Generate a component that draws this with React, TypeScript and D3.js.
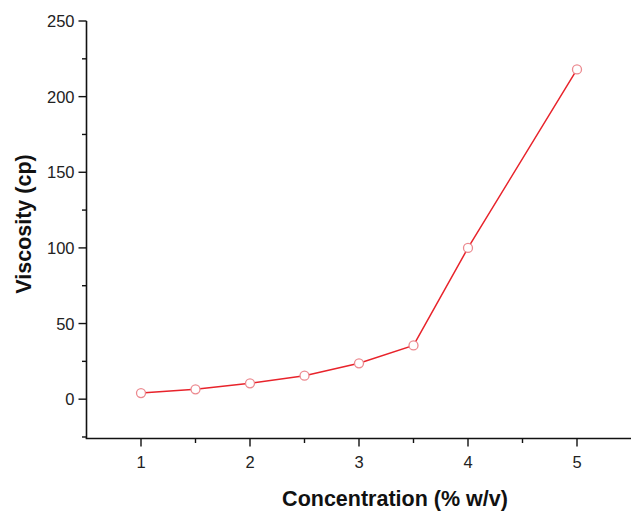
import React from "react";
import * as d3 from "d3";

const concentrations = [1, 1.5, 2, 2.5, 3, 3.5, 4, 5];
const viscosities = [4, 6.5, 10.5, 15.5, 23.7, 35.5, 100, 218];
const xMajorTicks = [1, 2, 3, 4, 5];
const xMinorTicks = [1.5, 2.5, 3.5, 4.5];
const yMajorTicks = [0, 50, 100, 150, 200, 250];
const yMinorTicks = [-25, 25, 75, 125, 175, 225];
const xTitle = "Concentration (% w/v)";
const yTitle = "Viscosity (cp)";

const W = 631;
const H = 511;
const left = 86.5;
const right = 631.5;
const top = 21;
const bottom = 438.5;

export default function App() {
  const x = d3.scaleLinear().domain([0.5, 5.5]).range([left, right]);
  const y = d3.scaleLinear().domain([-26, 250]).range([bottom, top]);
  const pts = concentrations.map((c, i) => [c, viscosities[i]] as [number, number]);
  const line = d3
    .line<[number, number]>()
    .x((d) => x(d[0]))
    .y((d) => y(d[1]));
  const font = "'Liberation Sans', Arial, Helvetica, sans-serif";

  return (
    <svg
      width={W}
      height={H}
      style={{ position: "absolute", left: 0, top: 0, background: "#fff" }}
      fontFamily={font}
    >
      <rect width={W} height={H} fill="#fff" />
      {/* axes */}
      <line x1={left} x2={left} y1={top} y2={bottom} stroke="#111" strokeWidth={1.6} />
      <line x1={left - 0.8} x2={right} y1={bottom} y2={bottom} stroke="#111" strokeWidth={1.6} />
      {/* y ticks */}
      {yMajorTicks.map((t) => (
        <g key={"ym" + t}>
          <line x1={left - 8} x2={left} y1={y(t)} y2={y(t)} stroke="#111" strokeWidth={1.4} />
          <text x={left - 12} y={y(t) + 6} textAnchor="end" fontSize={16.5} fill="#222">
            {t}
          </text>
        </g>
      ))}
      {yMinorTicks.map((t) => (
        <line key={"yn" + t} x1={left - 4.5} x2={left} y1={y(t)} y2={y(t)} stroke="#111" strokeWidth={1.4} />
      ))}
      {/* x ticks */}
      {xMajorTicks.map((t) => (
        <g key={"xm" + t}>
          <line x1={x(t)} x2={x(t)} y1={bottom} y2={bottom + 8} stroke="#111" strokeWidth={1.4} />
          <text x={x(t)} y={467.7} textAnchor="middle" fontSize={16.5} fill="#222">
            {t}
          </text>
        </g>
      ))}
      {xMinorTicks.map((t) => (
        <line key={"xn" + t} x1={x(t)} x2={x(t)} y1={bottom} y2={bottom + 4.5} stroke="#111" strokeWidth={1.4} />
      ))}
      {/* titles */}
      <text x={395} y={505.5} textAnchor="middle" fontSize={21.5} fontWeight="bold" fill="#111">
        {xTitle}
      </text>
      <text
        transform={`translate(31,224) rotate(-90)`}
        textAnchor="middle"
        fontSize={21.5}
        fontWeight="bold"
        fill="#111"
      >
        {yTitle}
      </text>
      {/* data */}
      <path d={line(pts) || ""} fill="none" stroke="#e8232b" strokeWidth={1.5} />
      {pts.map((p, i) => (
        <circle key={i} cx={x(p[0])} cy={y(p[1])} r={4.5} fill="#fff" stroke="#ec8a90" strokeWidth={1.3} />
      ))}
    </svg>
  );
}
